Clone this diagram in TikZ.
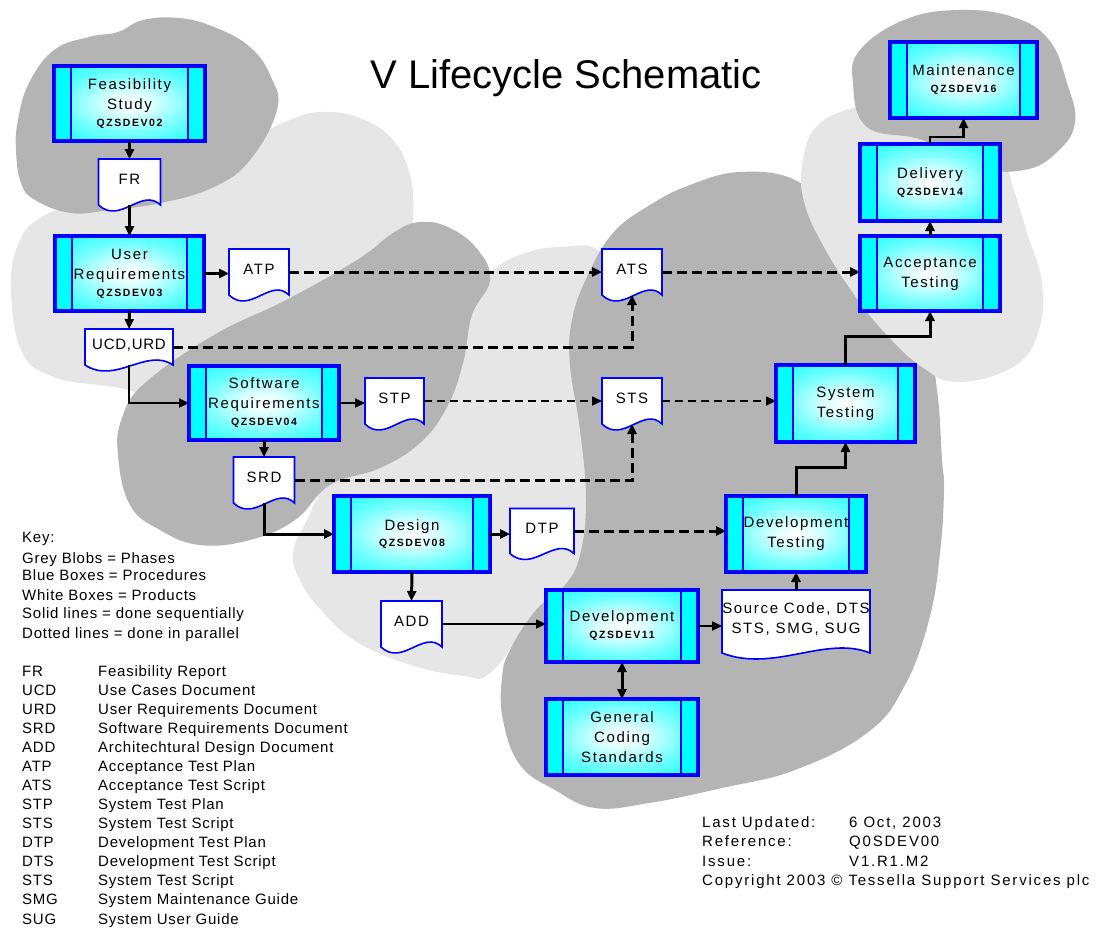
\documentclass[tikz,border=0pt]{standalone}
\usepackage{fontspec}
\setmainfont{Liberation Sans}
\newfontfamily\boxf[LetterSpace=11]{Liberation Sans}
\newfontfamily\keyf[LetterSpace=5]{Liberation Sans}
\newfontfamily\infof[LetterSpace=12]{Liberation Sans}
\newfontfamily\codef[LetterSpace=15]{Liberation Sans}
\usetikzlibrary{arrows.meta,calc}
\pgfdeclarelayer{blobs}
\pgfdeclarelayer{back}
\pgfsetlayers{blobs,back,main}
\definecolor{blobdark}{RGB}{180,180,180}
\definecolor{bloblight}{RGB}{230,230,230}
\definecolor{pblue}{RGB}{0,0,255}
\definecolor{pcyan}{RGB}{0,255,255}
\pgfdeclareradialshading{procshade}{\pgfpoint{0bp}{0bp}}{color(0bp)=(white); color(8bp)=(white!85!pcyan); color(20bp)=(white!45!pcyan); color(38bp)=(pcyan); color(50bp)=(pcyan)}
\newcommand{\qcode}[1]{{\codef\bfseries\fontsize{10.5}{12}\selectfont #1}}
\newcommand{\docnode}[6]{%
  \node[doc, minimum width=#4pt, minimum height=#5pt] (#1) at (#2,#3) {#6};
  \begin{pgfonlayer}{back}
    \filldraw[docshape] (#1.north west) -- (#1.north east) -- (#1.south east)
      .. controls ($(#1.south east)+(-0.3*#4,-18)$) and ($(#1.south west)+(0.35*#4,20)$) .. (#1.south west) -- cycle;
  \end{pgfonlayer}}
\tikzset{
  proc/.style={draw=pblue, line width=3.2pt, shade, shading=procshade, inner sep=0pt, outer sep=0pt,
    align=center, font=\boxf\fontsize{15}{20}\selectfont,
    path picture={
      \fill[pcyan] (path picture bounding box.north west) rectangle ([xshift=17pt]path picture bounding box.south west);
      \fill[pcyan] (path picture bounding box.north east) rectangle ([xshift=-17pt]path picture bounding box.south east);
      \draw[pblue, line width=2.6pt] ([xshift=17pt]path picture bounding box.north west) -- ([xshift=17pt]path picture bounding box.south west);
      \draw[pblue, line width=2.6pt] ([xshift=-17pt]path picture bounding box.north east) -- ([xshift=-17pt]path picture bounding box.south east);
    }},
  doc/.style={inner sep=0pt, outer sep=0pt, align=center, text depth=6pt, font=\boxf\fontsize{15}{20}\selectfont},
  docshape/.style={fill=white, draw=pblue, line width=1.6pt},
  tipA/.tip={Triangle[length=10pt,width=9pt]},
  seqarrow/.style={line width=3pt, -tipA},
  seqmid/.style={line width=2.2pt, -tipA},
  seqthin/.style={line width=1.6pt, -tipA},
  pararrow/.style={line width=3pt, dash pattern=on 10pt off 5pt, -tipA},
  parthin/.style={line width=1.6pt, dash pattern=on 8pt off 5pt, -tipA},
  keyt/.style={anchor=base west, inner sep=0pt, font=\keyf\fontsize{15}{18}\selectfont},
  infot/.style={anchor=base west, inner sep=0pt, font=\infof\fontsize{15}{18}\selectfont},
}
\begin{document}
\begin{tikzpicture}[x=1pt,y=-1pt]
\useasboundingbox (0,0) rectangle (1111,927);

% ---------- phase blobs ----------
\begin{pgfonlayer}{blobs}
\fill[white] (0,0) rectangle (1111,927);
\fill[bloblight] plot[smooth cycle, tension=0.7] coordinates {(11,283) (20,240) (40,218) (75,205) (130,195) (200,170) (250,140) (290,120) (321,112) (360,118) (393,140) (410,175) (413,210) (410,240) (400,290) (320,360) (200,400) (114,387) (54,377) (21,350)};
\fill[blobdark] plot[smooth cycle, tension=0.7] coordinates {(277,110) (250,160) (214,187) (161,203) (110,210) (71,213) (35,200) (21,183) (16,150) (18,120) (29,83) (54,50) (89,37) (118,32) (143,20) (179,18) (214,27) (250,47) (271,77)};
\fill[bloblight] plot[smooth cycle, tension=0.7] coordinates {(293,553) (307,520) (330,480) (380,440) (440,400) (468,320) (490,275) (520,255) (560,247) (600,252) (610,300) (605,420) (600,520) (580,580) (530,625) (490,673) (464,676) (411,665) (357,642) (321,610) (300,580)};
\fill[blobdark] plot[smooth cycle, tension=0.7] coordinates {(357,260) (393,233) (420,222) (450,228) (478,250) (490,280) (472,315) (463,363) (447,407) (420,443) (380,468) (330,485) (295,520) (250,540) (200,545) (160,530) (130,505) (118,455) (122,418) (145,383) (214,335) (286,300)};
\fill[blobdark] plot[smooth cycle, tension=0.7] coordinates {(613,233) (650,205) (690,185) (740,172) (795,180) (830,215) (880,270) (925,340) (937,390) (942,460) (944,490) (940,553) (929,620) (904,687) (867,733) (795,770) (722,788) (649,803) (595,808) (555,790) (520,765) (503,720) (502,678) (510,650) (536,610) (565,585) (580,555) (586,500) (580,430) (570,365) (572,320) (587,277)};
\fill[bloblight] plot[smooth cycle, tension=0.7] coordinates {(802,167) (816,127) (856,107) (900,100) (960,110) (1000,150) (1013,187) (1027,233) (1042,283) (1038,333) (1013,367) (958,382) (922,367) (885,333) (853,293) (824,247) (805,205)};
\fill[blobdark] plot[smooth cycle, tension=0.7] coordinates {(853,83) (860,50) (904,20) (958,10) (1013,17) (1049,40) (1067,83) (1075,123) (1056,153) (1024,170) (976,167) (922,140) (867,127)};
\end{pgfonlayer}

% ---------- title ----------
\node[anchor=base, inner sep=0pt, font=\fontsize{40}{48}\selectfont] (title) at (566,88) {V Lifecycle Schematic};

% ---------- procedures ----------
\node[proc, minimum width=151pt, minimum height=75pt] (feas) at (129.5,103.5) {Feasibility\\Study\\[-3pt]\qcode{QZSDEV02}};
\node[proc, minimum width=149pt, minimum height=75pt] (ur) at (129.5,273.5) {User\\Requirements\\[-3pt]\qcode{QZSDEV03}};
\node[proc, minimum width=150pt, minimum height=74pt] (sr) at (264,403) {Software\\Requirements\\[-3pt]\qcode{QZSDEV04}};
\node[proc, minimum width=156pt, minimum height=76pt] (design) at (412,534) {Design\\[-4pt]\qcode{QZSDEV08}};
\node[proc, minimum width=152pt, minimum height=72pt] (dev) at (622,626) {Development\\[-3pt]\qcode{QZSDEV11}};
\node[proc, minimum width=152pt, minimum height=76pt] (gcs) at (622,737) {General\\Coding\\Standards};
\node[proc, minimum width=140pt, minimum height=76pt] (dt) at (796,534) {Development\\Testing};
\node[proc, minimum width=139pt, minimum height=77pt] (st) at (845.5,403.5) {System\\Testing};
\node[proc, minimum width=140pt, minimum height=75pt] (acc) at (930,273.5) {Acceptance\\Testing};
\node[proc, minimum width=140pt, minimum height=77pt] (del) at (930,182.5) {Delivery\\[-3pt]\qcode{QZSDEV14}};
\node[proc, minimum width=147pt, minimum height=76pt] (maint) at (963.5,80) {Maintenance\\[-3pt]\qcode{QZSDEV16}};

% ---------- products ----------
\docnode{fr}{129.5}{182}{62}{46}{FR}
\docnode{atp}{259}{272}{60}{46}{ATP}
\docnode{ucd}{129}{347}{88}{36}{{\keyf UCD,URD}}
\docnode{stp}{394.5}{401}{59}{46}{STP}
\docnode{ats}{632}{272}{60}{46}{ATS}
\docnode{sts}{632}{401}{60}{46}{STS}
\docnode{srd}{264}{480}{61}{46}{SRD}
\docnode{dtp}{542}{531}{64}{45}{DTP}
\docnode{add}{411.5}{624}{61}{46}{ADD}
\docnode{src}{796}{621.5}{148}{63}{Source Code, DTS\\STS, SMG, SUG}

% ---------- sequential connectors ----------
\draw[seqarrow] (feas.south) -- (fr.north);
\draw[seqarrow] (fr.south) -- (ur.north);
\draw[seqarrow] (ur.east) -- (ur.east -| atp.west);
\draw[seqarrow] (ur.south) -- (ucd.north);
\draw[seqmid] (ucd.south) |- (sr.west);
\draw[seqmid] (sr.east) -- (sr.east -| stp.west);
\draw[seqarrow] (sr.south) -- (srd.north);
\draw[seqarrow] (srd.south) |- (design.west);
\draw[seqarrow] (design.east) -- (design.east -| dtp.west);
\draw[seqarrow] (design.south) -- (add.north);
\draw[seqthin] (add.east) -- (add.east -| dev.west);
\draw[seqmid] (dev.east) -- (dev.east -| src.west);
\draw[line width=3pt, tipA-tipA] (dev.south) -- (gcs.north);
\draw[seqarrow] (src.north) -- (dt.south);
\draw[seqarrow] (dt.north) -- ++(0,-29) -| (st.south);
\draw[seqarrow] (st.north) -- ++(0,-29) -| (acc.south);
\draw[seqarrow] (acc.north) -- (del.south);
\draw[seqmid] (del.north) -- ++(0,-7) -| (maint.south);

% ---------- parallel connectors ----------
\draw[pararrow] (atp.east) -- (ats.west);
\draw[pararrow] (ucd.east) -| (ats.south);
\draw[parthin] (stp.east) -- (sts.west);
\draw[pararrow] (srd.east) -| (sts.south);
\draw[pararrow] (ats.east) -- (ats.east -| acc.west);
\draw[parthin] (sts.east) -- (sts.east -| st.west);
\draw[pararrow] (dtp.east) -- (dtp.east -| dt.west);

% ---------- key ----------
\node[keyt] (k0) at (22,542) {Key:};
\node[keyt] (k1) at (22,563) {Grey Blobs = Phases};
\node[keyt] (k2) at (22,580) {Blue Boxes = Procedures};
\node[keyt] (k3) at (22,600) {White Boxes = Products};
\node[keyt] (k4) at (22,618) {Solid lines = done sequentially};
\node[keyt] (k5) at (22,638) {Dotted lines = done in parallel};
\foreach \ab/\de [count=\i] in {FR/Feasibility Report, UCD/Use Cases Document, URD/User Requirements Document, SRD/Software Requirements Document, ADD/Architechtural Design Document, ATP/Acceptance Test Plan, ATS/Acceptance Test Script, STP/System Test Plan, STS/System Test Script, DTP/Development Test Plan, DTS/Development Test Script, STS/System Test Script, SMG/System Maintenance Guide, SUG/System User Guide}{
  \node[keyt] (ab\i) at (22,{676+(\i-1)*19.08}) {\ab};
  \node[keyt] (de\i) at (98,{676+(\i-1)*19.08}) {\de};
}

% ---------- document info ----------
\node[infot] (i1) at (702,827) {Last Updated:};
\node[infot] (i2) at (849,827) {6 Oct, 2003};
\node[infot] (i3) at (702,846) {Reference:};
\node[infot] (i4) at (849,846) {Q0SDEV00};
\node[infot] (i5) at (702,866) {Issue:};
\node[infot] (i6) at (849,866) {V1.R1.M2};
\node[infot] (i7) at (702,885) {Copyright 2003 © Tessella Support Services plc};
\end{tikzpicture}
\end{document}
